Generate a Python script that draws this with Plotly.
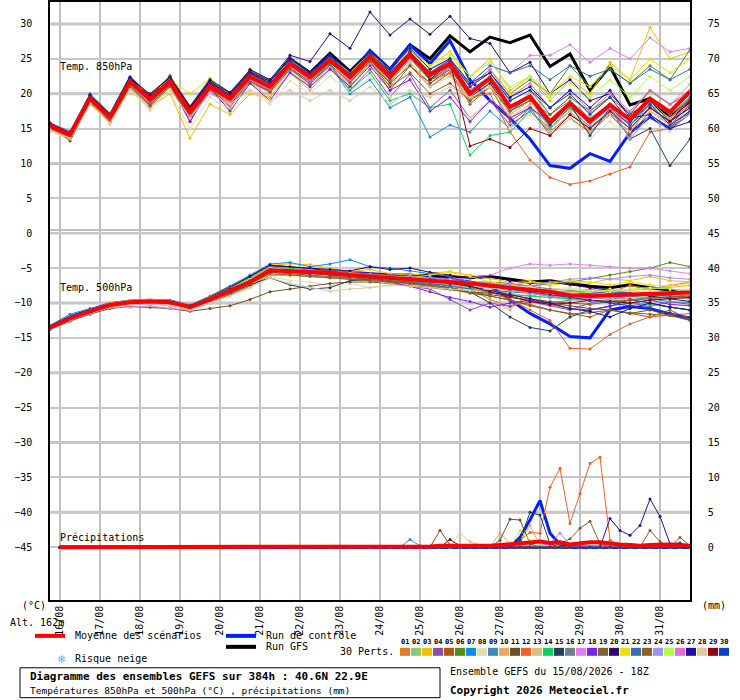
import pandas as pd
import plotly.graph_objects as go

# time axes: temperatures every 12h, precipitation every 6h
t12 = pd.date_range("2026-08-15 18:00", periods=33, freq="12h")
t6 = pd.date_range("2026-08-16 00:00", periods=64, freq="6h")
days = pd.date_range("2026-08-16", "2026-08-31", freq="D")
day_labels = [d.strftime("%d/%m") for d in days]

member_colors = ["#e07b2a", "#8fc870", "#f0c000", "#8c4fa8", "#b05a10", "#5a8a10", "#0a8cf0", "#e8d8b0",
                 "#3a8cc0", "#e8a860", "#705020", "#f06020", "#d8c080", "#10d060", "#204060", "#708090",
                 "#e080f0", "#8020f0", "#806030", "#300870", "#f0e000", "#3070b0", "#906020", "#a090f0",
                 "#b0ff40", "#e070d0", "#2010a0", "#e0c8a0", "#900010", "#1040c0"]

# 850 hPa temperature (°C)
mean850 = [15.4,14.1,19.3,16.6,21.7,19.2,21.7,17.4,21.0,19.3,22.4,21.0,24.3,22.4,24.8,22.4,25.3,22.4,25.6,22.7,24.3,20.0,22.2,18.1,19.6,16.0,18.6,16.0,18.4,16.3,19.3,17.4,20.3]
ctl850 = [15.6,14.0,19.5,16.3,22.0,19.0,22.0,17.0,21.3,19.0,22.8,21.3,24.8,22.8,25.5,22.6,26.2,23.5,27.0,24.3,27.6,22.0,19.0,16.5,13.5,9.7,9.3,11.4,10.3,14.4,16.7,15.0,17.4]
gfs850 = [15.5,14.2,19.6,16.8,22.2,19.4,22.0,17.8,21.5,19.8,23.0,21.5,25.0,23.0,25.8,23.2,26.0,23.5,27.0,25.0,28.3,26.0,28.1,27.3,28.4,23.9,25.7,20.5,23.9,18.4,19.3,16.7,18.9]
pert850 = [
    [15.2,13.8,19.0,16.0,21.2,18.5,21.5,16.8,20.5,18.8,21.8,20.5,23.5,21.8,24.2,21.5,24.8,21.6,25.0,22.0,23.0,19.0,21.5,17.0,19.0,15.5,18.0,15.0,17.6,15.5,18.6,16.4,19.4],
    [15.8,14.4,19.6,17.0,21.9,19.6,22.6,18.0,22.0,20.0,23.2,21.6,24.8,22.8,25.2,23.0,26.0,23.0,26.2,23.5,25.0,21.0,23.0,19.5,21.0,17.0,19.5,17.2,19.4,17.3,20.3,18.4,21.4],
    [14.8,13.6,18.8,16.2,21.0,18.2,20.0,13.6,18.5,17.0,20.0,19.5,23.0,21.0,24.0,21.8,25.5,22.8,26.5,24.0,26.0,22.5,25.0,20.5,22.5,19.0,22.0,20.0,24.5,22.0,29.5,25.0,26.0],
    [15.0,13.9,19.0,16.4,21.4,18.8,21.2,16.5,20.2,18.2,21.5,20.4,23.8,21.5,24.0,20.5,23.5,19.5,22.8,18.0,20.5,16.5,19.0,15.5,17.5,14.5,17.0,15.0,17.2,15.0,18.0,16.0,18.5],
    [15.6,14.2,19.2,16.8,21.6,19.0,21.4,17.2,20.6,19.0,22.0,20.4,23.6,21.8,24.0,21.0,24.5,20.5,24.0,21.0,23.0,18.5,21.0,16.0,18.0,14.0,16.5,14.5,17.0,14.0,17.5,15.5,18.4],
    [15.4,14.0,19.4,16.6,21.8,19.2,21.8,17.6,21.2,19.4,22.6,21.2,24.6,22.5,25.0,22.6,25.5,22.5,25.8,23.0,24.5,21.0,23.5,20.0,22.0,20.0,24.0,21.0,23.5,21.5,24.0,22.0,26.3],
    [15.8,14.6,20.0,17.2,22.4,19.8,22.2,18.0,21.6,19.6,22.8,21.4,24.6,22.2,24.0,20.0,22.0,18.0,19.5,13.8,15.5,14.5,17.5,15.0,18.0,15.5,18.5,16.0,18.5,15.5,18.5,16.5,19.5],
    [14.6,13.4,18.5,15.6,20.6,17.5,20.2,15.0,19.5,17.5,20.3,18.5,21.8,20.0,22.5,20.3,22.3,19.5,22.0,17.5,19.5,16.5,19.0,15.0,17.0,14.0,16.5,13.5,16.0,13.5,17.0,14.5,17.5],
    [15.3,14.1,19.2,16.8,21.6,19.2,21.6,17.0,21.0,19.2,22.5,21.0,24.2,22.6,25.0,22.5,25.8,22.8,25.5,22.0,23.5,19.5,21.5,17.5,19.0,15.5,18.0,15.2,17.5,15.8,19.0,17.0,20.5],
    [15.0,13.7,18.8,16.0,21.0,18.5,21.0,16.0,20.5,18.0,21.5,19.5,23.0,20.5,23.5,21.5,24.5,21.0,24.5,21.5,23.0,19.0,21.0,16.5,18.5,14.5,17.0,15.0,17.5,15.5,18.5,16.5,19.0],
    [15.5,13.2,18.8,16.5,21.2,18.6,21.6,16.0,21.5,19.8,23.5,22.0,24.0,22.5,25.2,22.5,24.5,21.5,24.0,21.5,23.5,20.0,22.5,18.0,19.5,15.0,17.5,14.5,17.0,14.5,18.0,16.0,19.0],
    [15.2,14.0,19.2,16.4,21.6,19.0,21.6,17.2,20.8,19.0,22.2,20.8,24.0,22.0,24.5,22.0,25.2,22.2,25.5,22.0,23.0,19.5,20.0,14.5,10.5,8.0,7.0,7.5,8.5,9.5,14.5,15.0,17.0],
    [14.8,13.5,18.6,15.8,20.8,18.0,21.0,16.6,20.4,18.6,21.6,20.0,23.2,21.2,23.8,21.2,24.2,21.0,24.5,21.0,22.5,19.0,21.5,17.0,19.0,15.0,17.5,14.5,17.0,14.5,18.0,15.5,18.0],
    [15.5,14.1,19.5,16.8,22.0,19.5,22.6,18.2,22.2,20.0,23.0,21.2,24.5,22.0,24.0,20.5,23.0,19.0,20.0,18.0,18.5,11.2,14.0,14.5,17.5,15.0,18.0,16.0,18.0,15.5,18.5,15.5,17.5],
    [15.6,14.0,19.8,17.0,22.2,19.4,22.0,17.8,21.8,19.8,23.0,21.8,25.2,23.0,25.6,23.0,26.0,23.0,26.0,22.5,24.0,19.5,21.5,17.5,19.5,15.5,18.5,14.0,18.0,13.5,15.0,9.7,13.5],
    [15.2,13.9,19.0,16.5,21.4,18.9,21.3,17.0,20.6,19.0,22.0,20.6,24.0,22.0,24.5,22.0,25.0,22.0,25.0,22.0,24.0,20.5,22.5,19.0,20.5,17.0,19.0,16.5,18.5,16.0,19.0,17.0,19.5],
    [15.0,13.8,19.0,16.2,21.2,18.6,21.0,16.5,20.4,18.5,21.8,20.5,23.5,21.5,24.0,21.8,24.5,22.0,25.0,22.5,23.5,21.5,24.0,23.0,25.5,25.5,27.0,24.5,26.5,25.0,28.0,26.0,26.5],
    [15.3,14.0,19.1,16.4,21.5,18.9,21.4,16.0,20.8,17.5,21.5,19.0,23.0,21.0,23.5,21.0,24.0,20.5,22.0,17.5,19.5,16.0,19.0,16.5,18.0,16.0,18.5,16.0,18.0,15.5,18.0,16.0,18.0],
    [15.1,13.8,18.9,16.2,21.2,18.4,21.2,16.8,20.6,18.4,21.8,20.2,23.5,21.4,24.2,21.6,24.8,22.0,25.2,22.0,23.8,20.0,22.0,18.0,20.0,16.0,18.5,16.0,18.5,16.0,19.0,17.0,19.0],
    [15.6,14.2,19.8,17.0,22.2,19.6,22.4,18.2,22.0,20.2,23.4,22.0,25.5,24.6,28.6,26.5,31.7,28.4,30.7,28.5,31.1,27.9,27.2,23.0,24.5,20.0,22.0,19.0,20.0,17.0,19.0,16.0,18.0],
    [15.4,14.0,19.3,16.5,21.8,20.0,22.0,20.0,22.2,19.8,22.8,21.4,24.5,22.5,25.2,23.0,25.8,23.5,26.5,24.0,26.0,21.0,23.5,20.0,22.5,20.0,22.5,21.0,24.0,22.0,25.0,23.0,25.0],
    [15.3,14.1,19.4,16.7,21.9,19.3,21.9,17.4,21.2,19.4,22.6,21.2,24.5,22.6,25.1,22.6,25.5,22.5,25.5,22.5,24.3,21.5,24.0,23.0,24.0,22.0,24.0,22.5,23.5,21.5,23.5,22.0,23.5],
    [15.0,13.6,18.6,16.0,21.0,18.2,21.0,16.8,20.8,19.0,22.0,20.4,24.0,22.0,24.4,22.2,24.6,21.0,23.0,20.0,21.5,19.0,21.0,17.5,19.0,17.0,19.5,17.5,19.5,17.0,20.5,18.5,20.0],
    [15.5,14.2,19.5,17.0,22.0,19.4,22.0,17.5,21.4,19.6,22.8,21.4,24.4,22.6,25.0,22.6,25.6,22.6,25.8,22.8,24.6,20.5,22.5,18.0,19.5,16.0,18.5,15.5,18.0,13.5,17.0,15.0,17.5],
    [15.4,14.1,19.4,16.6,21.8,19.2,21.8,17.6,21.2,19.4,22.6,21.2,24.4,22.5,25.0,22.6,25.6,22.8,26.0,23.5,25.5,22.5,24.5,21.0,22.5,19.5,21.5,19.5,22.0,19.5,22.5,20.5,22.5],
    [15.2,13.9,19.0,16.4,21.4,19.0,21.5,17.0,20.8,19.0,22.0,20.6,24.0,22.0,24.6,22.2,25.2,22.5,25.5,23.0,25.0,21.0,23.5,19.5,21.5,18.0,20.5,17.5,20.0,17.5,20.5,18.5,20.5],
    [15.6,14.3,19.8,17.0,22.4,19.8,22.4,18.0,22.0,20.0,23.2,21.8,25.0,23.0,25.5,23.2,26.0,23.5,26.5,23.5,25.0,21.5,23.0,19.5,21.0,18.0,20.5,18.0,20.5,16.5,17.0,15.0,16.0],
    [14.8,13.6,18.6,15.8,20.6,17.8,20.6,16.5,20.0,18.5,20.5,19.0,20.5,19.0,20.5,19.0,21.0,18.5,20.5,19.5,21.0,19.5,21.0,18.0,20.0,16.0,18.5,15.0,17.5,15.0,17.5,15.5,17.0],
    [15.8,14.4,19.6,17.0,22.0,20.0,22.4,18.0,21.6,19.8,23.0,21.5,24.6,22.6,25.0,22.6,25.5,22.8,26.0,22.0,24.6,12.5,13.5,12.3,15.0,14.0,17.0,15.0,17.5,15.0,18.0,16.0,19.0],
    [15.5,14.2,19.5,16.9,22.0,19.4,22.1,17.6,21.4,19.6,22.8,21.4,24.6,22.8,25.3,22.8,25.8,23.0,26.0,23.0,24.8,21.0,23.0,19.0,20.5,18.0,20.0,17.0,19.5,16.0,18.5,15.5,17.5],
]

# 500 hPa temperature (°C)
mean500 = [-13.5,-12.2,-11.2,-10.3,-9.9,-9.8,-9.9,-10.6,-9.5,-8.3,-7.0,-5.3,-5.4,-5.6,-5.7,-6.0,-6.2,-6.3,-6.5,-6.7,-7.0,-7.2,-7.5,-7.8,-8.2,-8.4,-8.9,-9.0,-8.9,-8.8,-8.7,-8.6,-8.5]
ctl500 = [-13.4,-12.0,-11.0,-10.1,-9.7,-9.6,-9.7,-10.4,-9.2,-7.8,-6.3,-4.7,-5.0,-5.3,-5.5,-5.6,-5.8,-6.0,-6.0,-6.3,-6.6,-7.0,-7.6,-9.5,-11.5,-13.0,-14.8,-15.0,-11.0,-10.5,-10.8,-11.6,-12.3]
gfs500 = [-13.5,-12.1,-11.1,-10.2,-9.8,-9.7,-9.8,-10.5,-9.4,-8.1,-6.8,-5.2,-5.3,-5.4,-5.6,-5.8,-6.0,-6.0,-6.2,-6.0,-6.3,-6.4,-6.2,-6.6,-7.0,-6.8,-7.2,-7.6,-7.8,-7.4,-7.8,-8.2,-8.5]
pert500 = [
    [-13.6,-12.0,-11.0,-10.2,-9.8,-9.6,-9.8,-10.4,-9.0,-7.6,-6.2,-4.8,-5.0,-5.6,-6.0,-6.4,-6.5,-6.8,-7.0,-7.5,-7.2,-8.0,-9.5,-10.5,-9.0,-8.5,-9.5,-8.0,-8.5,-7.5,-8.0,-7.5,-7.0],
    [-13.4,-12.3,-11.3,-10.4,-10.0,-9.9,-10.0,-10.8,-9.8,-8.6,-7.2,-5.6,-5.8,-6.0,-6.2,-6.5,-6.8,-7.0,-7.2,-7.0,-7.4,-7.6,-7.2,-7.8,-8.0,-8.2,-8.4,-8.6,-8.8,-9.0,-9.2,-9.0,-9.3],
    [-13.5,-12.1,-11.1,-10.0,-9.6,-9.5,-9.6,-10.2,-9.2,-8.0,-6.4,-4.6,-4.4,-4.5,-5.0,-5.5,-5.2,-5.8,-6.0,-5.8,-5.5,-6.0,-6.5,-7.0,-6.8,-7.5,-7.0,-7.2,-6.5,-6.8,-6.2,-6.8,-7.0],
    [-13.7,-12.4,-11.4,-10.6,-10.2,-10.1,-10.4,-11.0,-10.0,-8.6,-7.4,-5.6,-5.4,-5.6,-6.0,-6.6,-6.8,-7.2,-7.5,-8.0,-9.5,-11.0,-10.0,-10.5,-9.8,-10.4,-11.0,-10.0,-9.5,-10.0,-10.5,-9.8,-10.2],
    [-13.4,-12.0,-11.0,-10.1,-9.8,-9.6,-9.9,-10.8,-9.8,-8.8,-7.6,-6.0,-6.0,-6.2,-6.4,-6.6,-6.8,-7.0,-7.2,-7.6,-8.0,-8.6,-9.0,-9.6,-10.2,-11.0,-11.5,-12.0,-11.0,-11.5,-12.0,-11.0,-12.4],
    [-13.5,-12.2,-11.2,-10.3,-9.9,-9.8,-9.9,-10.5,-9.4,-8.2,-6.8,-5.2,-5.4,-5.6,-5.8,-6.0,-6.2,-6.4,-6.4,-6.6,-6.8,-7.0,-7.0,-7.2,-7.6,-7.2,-7.0,-6.5,-6.0,-5.5,-5.0,-4.2,-4.8],
    [-13.2,-11.6,-10.8,-10.2,-9.8,-9.7,-9.6,-10.3,-9.1,-7.6,-6.0,-4.4,-4.2,-4.8,-4.4,-3.8,-4.8,-5.0,-5.4,-5.8,-6.2,-7.0,-7.5,-8.0,-8.5,-9.0,-9.5,-9.2,-9.0,-9.5,-9.2,-9.0,-9.5],
    [-13.6,-12.3,-11.2,-10.4,-10.0,-9.9,-10.0,-10.8,-10.0,-9.0,-7.8,-6.2,-6.8,-7.0,-7.5,-7.2,-7.8,-7.5,-7.0,-7.6,-7.8,-8.0,-7.6,-7.4,-7.5,-8.0,-7.8,-8.2,-8.0,-8.5,-8.2,-8.4,-8.0],
    [-13.5,-12.2,-11.2,-10.3,-9.9,-9.8,-9.9,-10.6,-9.4,-8.0,-6.6,-5.0,-5.2,-5.4,-5.6,-6.0,-6.4,-6.6,-7.0,-7.2,-7.5,-8.0,-8.5,-9.0,-9.8,-10.0,-9.6,-9.2,-9.5,-9.0,-9.4,-9.8,-10.0],
    [-13.5,-12.3,-11.3,-10.2,-9.7,-9.6,-9.8,-10.5,-9.3,-7.8,-6.4,-4.9,-5.0,-5.2,-5.6,-5.8,-6.0,-6.4,-6.8,-7.0,-7.2,-7.5,-9.5,-11.0,-8.5,-9.0,-8.5,-8.0,-8.6,-8.2,-8.0,-7.8,-7.5],
    [-13.8,-12.6,-11.6,-10.8,-10.5,-10.6,-10.8,-11.2,-10.8,-10.4,-9.5,-8.4,-8.0,-7.6,-7.2,-7.0,-7.0,-7.2,-7.5,-7.8,-8.0,-8.4,-8.8,-9.2,-9.6,-10.0,-10.4,-10.8,-11.0,-11.5,-11.0,-11.8,-12.3],
    [-13.5,-12.2,-11.2,-10.3,-9.9,-9.8,-9.9,-10.6,-9.5,-8.3,-7.0,-5.4,-5.6,-5.4,-5.4,-5.6,-5.8,-6.0,-6.2,-6.5,-7.0,-7.6,-8.4,-9.5,-11.0,-12.5,-16.5,-16.6,-14.5,-13.0,-12.0,-11.8,-11.5],
    [-13.5,-12.2,-11.2,-10.4,-10.0,-9.9,-10.1,-10.7,-9.7,-8.6,-7.4,-5.9,-6.0,-6.2,-6.4,-6.6,-6.8,-7.2,-7.4,-7.6,-7.8,-8.0,-8.2,-8.6,-9.0,-9.2,-9.5,-9.8,-9.6,-9.4,-9.0,-9.2,-9.4],
    [-13.3,-12.0,-11.1,-10.2,-9.8,-9.7,-9.8,-10.4,-9.3,-7.9,-6.5,-4.9,-5.0,-5.4,-5.6,-5.9,-6.0,-6.2,-6.5,-6.8,-7.0,-7.8,-8.6,-8.8,-9.0,-9.2,-9.4,-9.6,-9.8,-10.0,-10.2,-10.6,-11.0],
    [-13.6,-12.3,-11.2,-10.3,-9.9,-9.8,-9.9,-10.5,-9.6,-8.6,-7.4,-6.4,-7.4,-8.0,-7.8,-6.8,-6.6,-6.8,-7.2,-7.4,-7.8,-8.4,-10.0,-12.0,-13.5,-14.0,-12.0,-11.0,-10.5,-9.5,-10.0,-10.6,-11.0],
    [-13.5,-12.1,-11.1,-10.2,-9.8,-9.7,-9.8,-10.5,-9.4,-8.1,-6.8,-5.2,-5.3,-5.5,-5.8,-6.2,-6.6,-7.0,-6.8,-6.4,-6.6,-7.0,-7.4,-7.2,-7.6,-8.0,-8.2,-8.4,-8.6,-8.8,-9.0,-8.8,-9.0],
    [-13.7,-12.5,-11.5,-10.6,-10.6,-10.4,-10.8,-11.0,-9.8,-8.5,-7.2,-5.4,-5.6,-5.8,-5.6,-5.8,-6.0,-6.2,-6.2,-6.4,-6.6,-6.4,-6.0,-5.0,-4.4,-4.6,-4.4,-4.6,-4.8,-5.0,-5.0,-5.4,-5.8],
    [-13.5,-12.2,-11.2,-10.3,-9.9,-9.8,-9.9,-10.6,-9.5,-8.3,-7.0,-5.4,-5.4,-5.6,-5.8,-6.0,-6.4,-7.0,-7.6,-8.4,-9.2,-9.8,-10.6,-10.0,-9.6,-10.2,-10.8,-11.0,-10.4,-10.0,-9.6,-10.2,-10.4],
    [-13.5,-12.2,-11.2,-10.3,-9.9,-9.8,-9.9,-10.6,-9.5,-8.3,-7.0,-5.6,-5.8,-6.0,-6.2,-6.4,-6.6,-6.8,-7.0,-7.4,-7.8,-8.4,-9.0,-9.6,-10.4,-11.0,-11.6,-11.4,-11.0,-11.4,-11.6,-11.8,-12.5],
    [-13.4,-12.0,-11.0,-10.2,-9.8,-9.7,-9.8,-10.4,-9.2,-7.8,-6.2,-4.6,-4.8,-5.0,-5.2,-5.4,-4.8,-5.2,-5.0,-5.6,-6.0,-6.4,-6.2,-6.8,-7.2,-7.0,-7.4,-7.8,-8.2,-8.6,-9.0,-9.4,-9.8],
    [-13.5,-12.3,-11.3,-10.3,-9.9,-9.8,-9.9,-10.6,-9.5,-8.2,-6.8,-5.1,-5.2,-5.4,-5.6,-5.8,-6.0,-6.2,-6.4,-6.0,-5.6,-6.2,-7.0,-7.4,-7.0,-7.2,-6.8,-7.0,-7.4,-7.0,-7.4,-7.6,-7.2],
    [-13.6,-12.4,-11.3,-10.4,-10.0,-9.9,-10.0,-10.6,-9.5,-8.4,-7.1,-5.5,-5.6,-5.8,-6.0,-6.2,-6.4,-6.6,-6.8,-7.2,-7.6,-8.0,-8.2,-8.4,-8.6,-9.0,-8.8,-8.6,-8.4,-8.6,-8.8,-9.0,-9.2],
    [-13.5,-12.2,-11.2,-10.4,-10.0,-9.9,-10.0,-10.7,-9.6,-8.5,-7.2,-5.8,-6.0,-6.2,-6.4,-6.6,-6.8,-7.0,-7.2,-7.6,-8.0,-8.4,-8.6,-8.8,-9.4,-9.8,-10.0,-10.2,-9.8,-9.6,-9.4,-9.2,-9.0],
    [-13.5,-12.1,-11.1,-10.2,-9.8,-9.7,-9.8,-10.5,-9.4,-8.1,-6.7,-5.1,-5.2,-5.4,-5.6,-5.8,-6.0,-6.2,-6.4,-6.6,-6.8,-7.0,-7.2,-7.4,-7.6,-7.0,-6.6,-6.4,-6.6,-6.2,-6.0,-6.4,-6.6],
    [-13.4,-12.1,-11.1,-10.2,-9.8,-9.7,-9.8,-10.5,-9.3,-8.0,-6.6,-5.0,-5.2,-5.4,-5.6,-5.8,-6.0,-6.2,-6.4,-6.6,-6.8,-7.2,-7.6,-8.0,-8.4,-8.2,-8.0,-8.4,-8.2,-8.0,-7.8,-8.0,-8.2],
    [-13.5,-12.2,-11.2,-10.3,-9.9,-9.8,-9.9,-10.6,-9.5,-8.3,-7.0,-5.3,-5.4,-5.6,-5.7,-6.0,-6.2,-6.3,-6.5,-6.7,-7.0,-7.4,-7.8,-8.2,-8.6,-9.0,-9.2,-9.4,-9.2,-9.0,-8.8,-8.6,-8.4],
    [-13.6,-12.3,-11.3,-10.4,-10.0,-9.9,-10.0,-10.7,-9.6,-8.4,-7.1,-5.4,-5.5,-5.7,-5.8,-6.1,-6.3,-6.4,-6.6,-6.8,-7.2,-7.6,-8.2,-8.8,-9.4,-10.0,-10.8,-11.2,-12.0,-10.8,-10.0,-10.6,-11.0],
    [-13.6,-12.4,-11.4,-10.6,-10.2,-10.1,-10.4,-11.0,-10.0,-9.0,-7.8,-6.4,-7.2,-7.8,-8.3,-8.0,-7.8,-7.4,-7.6,-7.8,-8.0,-8.2,-8.0,-7.8,-7.6,-8.4,-8.6,-9.0,-8.4,-8.2,-8.6,-8.4,-8.2],
    [-13.5,-12.2,-11.2,-10.3,-9.9,-9.8,-9.9,-10.6,-9.4,-8.0,-6.8,-5.2,-5.3,-5.5,-5.8,-6.0,-6.2,-6.4,-6.6,-6.8,-7.0,-7.6,-8.4,-9.0,-9.8,-10.2,-10.0,-9.6,-9.8,-10.0,-9.6,-9.4,-9.2],
    [-13.5,-12.2,-11.2,-10.3,-9.9,-9.8,-9.9,-10.6,-9.5,-8.2,-6.9,-5.2,-5.3,-5.5,-5.6,-5.9,-6.1,-6.2,-6.4,-6.6,-6.9,-7.2,-7.6,-8.0,-8.4,-8.8,-9.2,-9.6,-10.0,-10.4,-10.8,-11.4,-12.0],
]

# precipitation (mm / 6h), dry until 24/08 12Z; values listed from that step on
dry_steps = 34
pr_mean = [0.1,0.1,0.1,0.1,0.2,0.2,0.1,0.2,0.2,0.2,0.3,0.4,0.5,0.7,0.8,0.6,0.7,0.4,0.6,0.7,0.7,0.5,0.4,0.3,0.2,0.3,0.4,0.4,0.3,0.2]
pr_ctl = [0,0,0,0,0,0,0,0,0,0,0,0,1.4,3.9,6.7,2.0,0.4,0,0,0,0,0,0,0,0,0,0,0,0,0]
pr_gfs = [0,0,0,0,0,0,0,0,0,0,0,0,0,0,0,0,0,0,0,0,0,0,0,0,0,0,0,0,0,0]
pr_pert = {
    9:  [0,1.1,0.2,0,0,0,0,0,0,0,0,0,0,0,0,0,0,0,0,0,0,0,0,0,0,0,0,0,0,0],
    10: [0,0,0,0,0,0,0,0,0,0,2.0,0.5,0.8,3.1,0.3,0,0,0,0,0,0,0,0,0,0,0,0,0,0,0],
    11: [0,0,0,0,2.4,0.3,0,0,0,0,1.0,4.0,3.9,0.5,0,0,0,0,0,0,0,0,0,0,0,0,0,0,0,0],
    12: [0,0,0,0,0,0,0,0,0,0,0,0,1.0,2.1,2.0,8.6,11.3,3.4,7.7,12.0,12.9,1.0,0.2,0,0,0,0,0,0,0],
    15: [0,0,0,0,0,0,0,0,0,0,0,0,1.0,5.0,4.6,0.5,0,0,0,0,0,0,0,0,0,0,0,0,0,0],
    19: [0,0,0,0,0,0,0,0,0,0,0,0,0,0,0,0,0.5,1.2,2.7,3.7,0.5,0,0,0,0,2.4,0.8,0,1.4,0.2],
    24: [0,0,0,0,0,0,0,0,0,0,0,0,0,0,0.3,0.5,2.0,0.4,0,0,0,0,0,0,0,0,0,0,0,0],
    25: [0,0,0,0,0,0,0,0,0,0,0,0,2.4,1.0,0.2,0,0,0,0,0,0,0,0,0,0,0,0,0,0,0],
    27: [0,0,0,0,0,0,0,0,0,0,0,0,0,0,0,0,0,0,0,0,0,4.1,2.4,1.7,3.1,6.9,4.4,0.5,0.6,0],
    28: [0,0,0,0,0,0,2.0,0.8,0.3,0,0,0,0,0,0,0,0,0,0,0,0,0,0,0,0,0,0,0,0,0],
    29: [0,0,0,0,0,1.1,0.2,0,0,0,0,0,0,0,0,0,0,0,0,0,0,0,0,0,0,0,0,0,0,0],
}


def rain(vals):
    return [0] * dry_steps + vals


fig = go.Figure()


def add_run(data, col, w):
    fig.add_trace(go.Scatter(x=t12, y=data[0], mode="lines", line=dict(color=col, width=w)))
    fig.add_trace(go.Scatter(x=t12, y=data[1], mode="lines", line=dict(color=col, width=w)))
    fig.add_trace(go.Scatter(x=t6, y=rain(data[2]), yaxis="y2", mode="lines", line=dict(color=col, width=w)))


# GFS and control first, members over them, the mean on top
add_run((gfs850, gfs500, pr_gfs), "black", 3)
add_run((ctl850, ctl500, pr_ctl), "#0020ff", 3)

for i, col in enumerate(member_colors):
    mk = dict(size=3, color=col)
    fig.add_trace(go.Scatter(x=t12, y=pert850[i], mode="lines+markers", line=dict(color=col, width=1),
                             marker=mk, hoverinfo="skip"))
    fig.add_trace(go.Scatter(x=t12, y=pert500[i], mode="lines+markers", line=dict(color=col, width=1),
                             marker=mk, hoverinfo="skip"))
    fig.add_trace(go.Scatter(x=t6, y=rain(pr_pert.get(i + 1, pr_gfs)), yaxis="y2", mode="lines+markers",
                             line=dict(color=col, width=1), marker=mk, hoverinfo="skip"))

add_run((mean850, mean500, pr_mean), "#ff0000", 4)

mono = "DejaVu Sans Mono"
y_lo, y_hi = -52.57, 33.14
left_ticks = list(range(-45, 31, 5))
right_ticks = list(range(0, 76, 5))

shapes = []
for v in left_ticks:
    if v % 10 == 0 and v != 0:
        shapes.append(dict(type="line", xref="paper", yref="y", x0=0, x1=1, y0=v, y1=v,
                           line=dict(color="#c0c0c0", width=3), layer="below"))
for v in (0.45, -0.05):
    shapes.append(dict(type="line", xref="paper", yref="y", x0=0, x1=1, y0=v, y1=v,
                       line=dict(color="#a8a8a8", width=1.5), layer="below"))


def px(x, y):
    return (x - 50) / 640, (600 - y) / 600


annotations = []


def text(x, y, s, size=10, bold=False, anchor="left", color="black"):
    ax, ay = px(x, y)
    annotations.append(dict(xref="paper", yref="paper", x=ax, y=ay, text="<b>%s</b>" % s if bold else s,
                            showarrow=False, xanchor=anchor, yanchor="middle",
                            font=dict(family=mono, size=size, color=color)))


text(58, 65, "Temp. 850hPa")
text(58, 286, "Temp. 500hPa")
text(58, 537, "Précipitations")
text(20, 606, "(°C)")
text(700, 606, "(mm)")
text(8, 623, "Alt. 162m")

# legend, drawn by hand like the original image
for x0, y0, col, label in [(35, 636, "#ff0000", "Moyenne des scénarios"), (226, 636, "#0020ff", "Run de contrôle"),
                           (226, 647, "black", "Run GFS")]:
    a, b = px(x0, y0)
    c, _ = px(x0 + 30, y0)
    shapes.append(dict(type="line", xref="paper", yref="paper", x0=a, x1=c, y0=b, y1=b,
                       line=dict(color=col, width=4)))
    text(x0 + 38, y0, label)
text(56, 659, "❄", size=12, color="#5ab0f0")
text(73, 659, "Risque neige")
text(396, 652, "30 Perts.", anchor="right")
for i, col in enumerate(member_colors):
    xs = 400 + i * 11
    a, b = px(xs, 648)
    c, d = px(xs + 10, 656)
    shapes.append(dict(type="rect", xref="paper", yref="paper", x0=a, x1=c, y0=b, y1=d,
                       fillcolor=col, line=dict(width=0)))
    text(xs + 5, 642, "%02d" % (i + 1), size=7, bold=True, anchor="center")

a, b = px(20, 668)
c, d = px(440, 698)
shapes.append(dict(type="rect", xref="paper", yref="paper", x0=a, x1=c, y0=b, y1=d,
                   line=dict(color="black", width=1)))
text(28, 677, "Diagramme des ensembles GEFS sur 384h : 40.6N 22.9E", size=11, bold=True)
text(28, 691, "Températures 850hPa et 500hPa (°C) , précipitations (mm)", size=9.5)
text(448, 672, "Ensemble GEFS du 15/08/2026 - 18Z")
text(448, 691, "Copyright 2026 Meteociel.fr", size=11, bold=True)

fig.update_layout(
    width=740, height=700, margin=dict(l=50, r=50, t=0, b=100),
    paper_bgcolor="white", plot_bgcolor="white", showlegend=False,
    font=dict(family=mono, size=10, color="black"),
    xaxis=dict(range=[t12[0], t12[-1]], tickvals=days, ticktext=day_labels, tickangle=-90,
               showgrid=True, gridcolor="#c0c0c0", gridwidth=1.5, showline=True, linecolor="black",
               linewidth=1.5, mirror=True, ticks="", zeroline=False, tickfont=dict(family=mono, size=10)),
    yaxis=dict(range=[y_lo, y_hi], tickvals=left_ticks, showgrid=True, gridcolor="#c8c8c8", gridwidth=1.5,
               zeroline=False, showline=True, linecolor="black", linewidth=1.5, ticks="",
               ticklabelstandoff=14, tickfont=dict(family=mono, size=10)),
    yaxis2=dict(range=[y_lo + 45, y_hi + 45], tickvals=right_ticks, overlaying="y", side="right",
                showgrid=False, zeroline=False, showline=True, linecolor="black", linewidth=1.5,
                ticks="", ticklabelstandoff=14, tickfont=dict(family=mono, size=10)),
    shapes=shapes, annotations=annotations,
)

fig.write_html("out.html", config={"displayModeBar": False},
               post_script="document.body.style.margin='0';")
